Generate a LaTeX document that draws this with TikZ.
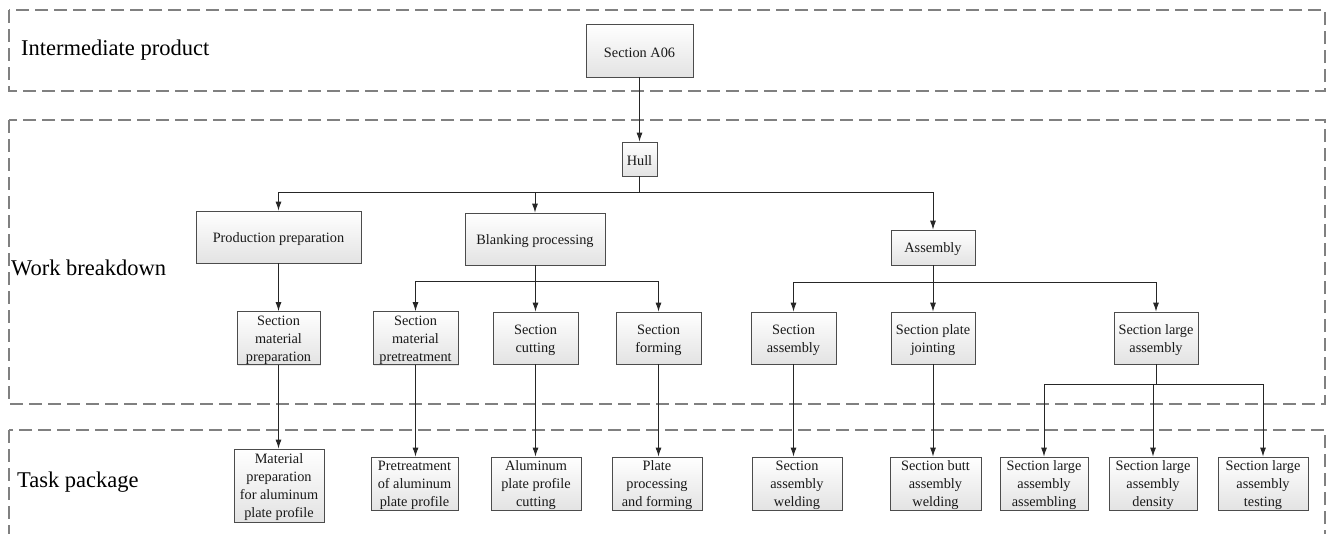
\documentclass[tikz,border=0pt]{standalone}
\usepackage{fontspec}
\setmainfont{Liberation Serif}
\usetikzlibrary{arrows.meta,shadows}

\tikzset{
  x=1pt, y=-1pt,
  zone/.style={draw=black!50, line width=1.3pt, dash pattern=on 13pt off 6pt},
  zonelabel/.style={anchor=west, inner sep=0pt, font=\fontsize{22.5}{26}\selectfont},
  wbox/.style={draw=black!70, line width=0.8pt, top color=white, bottom color=black!11,
    drop shadow={opacity=0.18, shadow xshift=1.2pt, shadow yshift=-1.2pt},
    align=center, inner sep=0pt, text=black!90, font=\fontsize{14.3}{18}\selectfont},
  conn/.style={draw=black!85, line width=0.9pt, -{Latex[length=9pt,width=6pt]}},
  plain/.style={draw=black!85, line width=0.9pt}
}

% box with a strut on its first line so the text sits slightly lower
\newcommand{\wbnode}[6]{% name, cx, cy, width, height, text
  \node[wbox, minimum width=#4pt, minimum height=#5pt] (#1) at (#2,#3) {\rule{0pt}{14pt}#6};}

\begin{document}
\begin{tikzpicture}
\useasboundingbox (0,0) rectangle (1328,533);
\fill[white] (0,0) rectangle (1328,533);
\begin{scope}
\clip (0,0) rectangle (1328,533);

% level bands
\draw[zone] (9,10) rectangle (1325,91);
\draw[zone] (9,120) rectangle (1325,404);
\draw[zone] (9,430) rectangle (1325,560);
\end{scope}

\node[zonelabel] (lblip) at (21,50) {Intermediate product};
\node[zonelabel] (lblwb) at (11,268) {Work breakdown};
\node[zonelabel] (lbltp) at (17,482) {Task package};

% bus heights
\coordinate (busA) at (0,192);
\coordinate (busB) at (0,281);
\coordinate (busC) at (0,282);
\coordinate (busD) at (0,384);

% top levels
\wbnode{a06}{639.5}{50.5}{107}{53}{Section A06}
\wbnode{hull}{639.5}{159}{35}{34}{Hull}
\wbnode{prod}{278.5}{237}{165}{52}{Production preparation}
\wbnode{blank}{535}{239}{140}{52}{Blanking processing}
\wbnode{asm}{933}{247.5}{84}{35}{Assembly}

% work items
\wbnode{smprep}{278.5}{338}{83}{52}{Section\\material\\preparation}
\wbnode{smpre}{415.5}{338}{85}{52}{Section\\material\\pretreatment}
\wbnode{scut}{535.5}{338}{85}{52}{Section\\cutting}
\wbnode{sform}{658.5}{338}{85}{52}{Section\\forming}
\wbnode{sasm}{793.5}{338}{85}{52}{Section\\assembly}
\wbnode{spj}{933}{338}{84}{52}{Section plate\\jointing}
\wbnode{sla}{1156}{338}{84}{52}{Section large\\assembly}

% task packages
\wbnode{matprep}{279}{485.5}{90}{73}{Material\\preparation\\for aluminum\\plate profile}
\wbnode{pretr}{414.5}{483.5}{87}{51}{Pretreatment\\of aluminum\\plate profile}
\wbnode{alcut}{536}{483.5}{90}{51}{Aluminum\\plate profile\\cutting}
\wbnode{plproc}{657}{483.5}{90}{51}{Plate\\processing\\and forming}
\wbnode{saw}{797}{483.5}{90}{51}{Section\\assembly\\welding}
\wbnode{sbaw}{935.5}{483.5}{91}{51}{Section butt\\assembly\\welding}
\wbnode{slaa}{1044}{483.5}{88}{51}{Section large\\assembly\\assembling}
\wbnode{slad}{1153}{483.5}{88}{51}{Section large\\assembly\\density}
\wbnode{slat}{1263}{483.5}{90}{51}{Section large\\assembly\\testing}

% intermediate product to hull
\draw[conn] (a06.south) -- (hull.north);

% hull to its three work areas
\draw[plain] (hull.south) -- (hull.south |- busA);
\draw[conn] (hull.south |- busA) -| (prod.north);
\draw[conn] (hull.south |- busA) -| (blank.north);
\draw[conn] (hull.south |- busA) -| (asm.north);

% production preparation
\draw[conn] (prod.south) -- (prod.south |- smprep.north);

% blanking processing
\draw[plain] (blank.south) -- (blank.south |- busB);
\draw[conn] (blank.south |- busB) -| (smpre.north);
\draw[conn] (blank.south |- busB) -| (scut.north);
\draw[conn] (blank.south |- busB) -| (sform.north);

% assembly
\draw[plain] (asm.south) -- (asm.south |- busC);
\draw[conn] (asm.south |- busC) -| (sasm.north);
\draw[conn] (asm.south |- busC) -| (spj.north);
\draw[conn] (asm.south |- busC) -| (sla.north);

% work items to task packages
\draw[conn] (smprep.south) -- (smprep.south |- matprep.north);
\draw[conn] (smpre.south) -- (smpre.south |- pretr.north);
\draw[conn] (scut.south) -- (scut.south |- alcut.north);
\draw[conn] (sform.south) -- (sform.south |- plproc.north);
\draw[conn] (sasm.south) -- (sasm.south |- saw.north);
\draw[conn] (spj.south) -- (spj.south |- sbaw.north);
\draw[plain] (sla.south) -- (sla.south |- busD);
\draw[conn] (sla.south |- busD) -| (slaa.north);
\draw[conn] (sla.south |- busD) -| (slad.north);
\draw[conn] (sla.south |- busD) -| (slat.north);
\end{tikzpicture}
\end{document}
